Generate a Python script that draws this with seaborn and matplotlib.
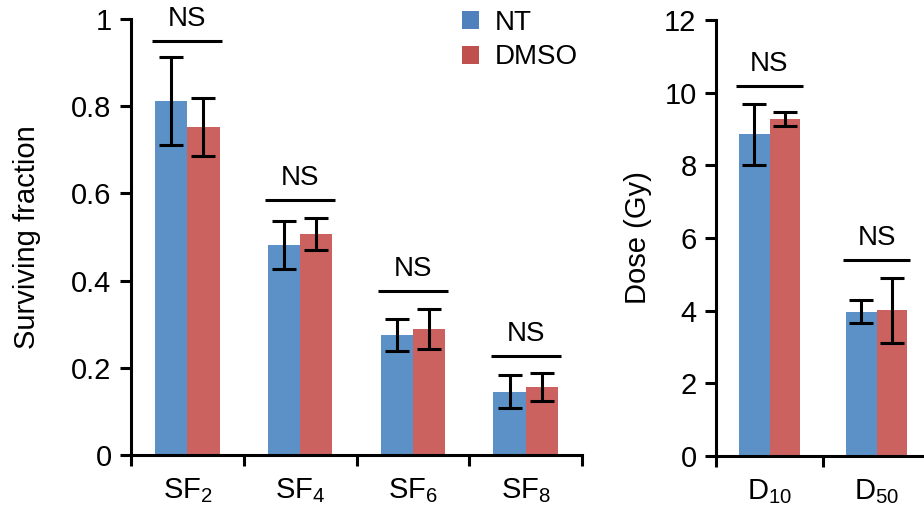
import pandas as pd
import seaborn as sns
import matplotlib.pyplot as plt
import numpy as np

# Surviving fraction data (left panel)
sf_labels = ['SF$_2$', 'SF$_4$', 'SF$_6$', 'SF$_8$']
sf_nt = [0.812, 0.482, 0.275, 0.145]
sf_nt_err = [0.100, 0.055, 0.037, 0.038]
sf_dmso = [0.752, 0.507, 0.289, 0.156]
sf_dmso_err = [0.067, 0.037, 0.046, 0.033]
sf_ns = [0.95, 0.585, 0.376, 0.227]

# Dose data (right panel)
d_labels = ['D$_{10}$', 'D$_{50}$']
d_nt = [8.86, 3.97]
d_nt_err = [0.84, 0.31]
d_dmso = [9.27, 4.01]
d_dmso_err = [0.20, 0.89]
d_ns = [10.18, 5.39]

groups = ['NT', 'DMSO']
bar_colors = ['#5B91C6', '#CB625F']
legend_colors = ['#4F81BD', '#C0504D']

sns.set_style('ticks')
plt.rcParams['font.family'] = ['Liberation Sans', 'DejaVu Sans']
plt.rcParams['mathtext.default'] = 'regular'
plt.rcParams['axes.linewidth'] = 2.2
for k in ['text.color', 'axes.labelcolor', 'xtick.color', 'ytick.color', 'axes.edgecolor']:
    plt.rcParams[k] = 'black'

fs = 21
lw = 2.2

fig = plt.figure(figsize=(9.24, 5.15), dpi=100)
ax1 = fig.add_axes([131 / 924, 60 / 515, (582 - 131) / 924, 436 / 515])
ax2 = fig.add_axes([716 / 924, 59 / 515, (930 - 716) / 924, 436 / 515])


def panel(ax, labels, nt, nt_err, dmso, dmso_err, ns, ymax, yticks, ylabel, ns_off):
    df = pd.DataFrame({
        'cat': labels * 2,
        'group': [groups[0]] * len(labels) + [groups[1]] * len(labels),
        'value': nt + dmso,
    })
    sns.barplot(data=df, x='cat', y='value', hue='group', palette=bar_colors,
                width=0.57, errorbar=None, ax=ax, linewidth=0, saturation=1)
    errs = nt_err + dmso_err
    vals = nt + dmso
    bars = [p for p in ax.patches if p.get_height() > 0][:len(vals)]
    for b, v, e in zip(bars, vals, errs):
        xc = b.get_x() + b.get_width() / 2
        ax.errorbar(xc, v, yerr=e, color='black', lw=lw, capsize=8.3,
                    capthick=lw, zorder=5)
    n = len(labels)
    for i in range(n):
        ax.plot([i - 0.31, i + 0.31], [ns[i], ns[i]], color='black', lw=lw,
                solid_capstyle='butt', clip_on=False)
        ax.text(i, ns[i] + ns_off, 'NS', ha='center', va='bottom', fontsize=20)
    ax.set_xlim(-0.5, n - 0.5)
    ax.set_ylim(0, ymax)
    ax.set_yticks(yticks)
    ax.set_yticklabels([('%g' % t) for t in yticks])
    ax.set_xticks(range(n))
    ax.set_xticklabels(labels)
    ax.set_xticks(np.arange(n + 1) - 0.5, minor=True)
    ax.tick_params(axis='x', which='major', length=0, pad=15, labelsize=fs)
    ax.tick_params(axis='x', which='minor', length=8, width=lw, direction='out')
    ax.tick_params(axis='y', length=8, width=lw, direction='out', labelsize=fs, pad=6)
    ax.set_xlabel('')
    ax.set_ylabel(ylabel, fontsize=fs, va='center')
    sns.despine(ax=ax)


panel(ax1, sf_labels, sf_nt, sf_nt_err, sf_dmso, sf_dmso_err, sf_ns,
      1, [0, 0.2, 0.4, 0.6, 0.8, 1], 'Surviving fraction', 0.02)
panel(ax2, d_labels, d_nt, d_nt_err, d_dmso, d_dmso_err, d_ns,
      12, [0, 2, 4, 6, 8, 10, 12], 'Dose (Gy)', 0.25)
ax1.yaxis.set_label_coords(-0.231, 0.5)
ax2.yaxis.set_label_coords(-0.364, 0.5)

ax2.get_legend().remove()
sns.move_legend(ax1, 'upper left', bbox_to_anchor=(462 / 924, 1 - 10 / 515),
                bbox_transform=fig.transFigure, frameon=False, title=None,
                fontsize=20, handlelength=0.62, handleheight=0.62,
                handletextpad=0.55, labelspacing=0.3, borderpad=0,
                borderaxespad=0)
for h, c in zip(ax1.get_legend().legend_handles, legend_colors):
    h.set_facecolor(c)
    h.set_edgecolor(c)

fig.savefig('out.png', dpi=100)
